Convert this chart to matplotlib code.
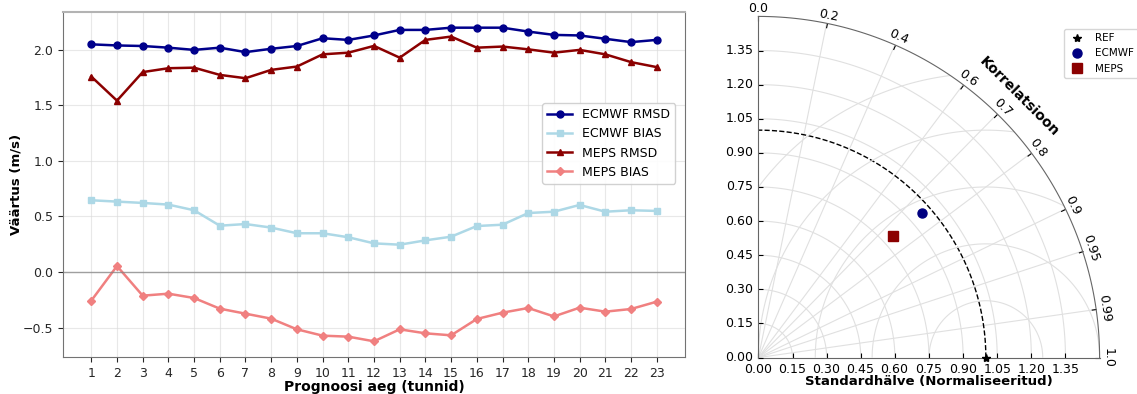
import numpy as np
import matplotlib
matplotlib.use("Agg")
import matplotlib.pyplot as plt
from matplotlib.lines import Line2D
from matplotlib.projections import PolarAxes
import mpl_toolkits.axisartist.floating_axes as FA
import mpl_toolkits.axisartist.grid_finder as GF

hours = list(range(1, 24))

ecmwf_rmsd = [2.05, 2.04, 2.035, 2.02, 2.00, 2.02, 1.98, 2.01, 2.035, 2.105, 2.09, 2.13,
              2.18, 2.18, 2.20, 2.20, 2.20, 2.165, 2.135, 2.13, 2.10, 2.07, 2.09]
ecmwf_bias = [0.646, 0.634, 0.622, 0.607, 0.556, 0.417, 0.432, 0.40, 0.349, 0.349, 0.313, 0.258,
              0.246, 0.285, 0.318, 0.414, 0.426, 0.531, 0.543, 0.604, 0.543, 0.556, 0.55]
meps_rmsd = [1.76, 1.543, 1.80, 1.835, 1.84, 1.775, 1.745, 1.82, 1.85, 1.96, 1.975, 2.036,
             1.93, 2.09, 2.12, 2.02, 2.03, 2.005, 1.975, 2.0, 1.96, 1.89, 1.845]
meps_bias = [-0.258, 0.054, -0.213, -0.195, -0.234, -0.33, -0.375, -0.42, -0.516, -0.573, -0.582, -0.624,
             -0.516, -0.552, -0.57, -0.423, -0.366, -0.324, -0.40, -0.321, -0.357, -0.333, -0.267]

# Taylor diagram (normalised std, correlation)
models = ["ECMWF", "MEPS"]
model_std = [0.96, 0.80]
model_corr = [0.749, 0.742]
model_colors = ["navy", "darkred"]
model_markers = ["o", "s"]
corr_ticks = [0.0, 0.2, 0.4, 0.6, 0.7, 0.8, 0.9, 0.95, 0.99, 1.0]
rms_levels = [0.25, 0.5, 0.75, 1.0, 1.25]
std_max = 1.5

fig = plt.figure(figsize=(11.37, 3.94), dpi=100)

# ---- left: time series ----
ax = fig.add_axes([63 / 1137, 1 - 357 / 394, 622 / 1137, 345 / 394])
ax.plot(hours, ecmwf_rmsd, color="darkblue", marker="o", lw=1.8, ms=5, label="ECMWF RMSD")
ax.plot(hours, ecmwf_bias, color="lightblue", marker="s", lw=1.8, ms=5, label="ECMWF BIAS")
ax.plot(hours, meps_rmsd, color="darkred", marker="^", lw=1.8, ms=5, label="MEPS RMSD")
ax.plot(hours, meps_bias, color="lightcoral", marker="D", lw=1.8, ms=4.5, label="MEPS BIAS")
ax.axhline(0, color="gray", lw=1, alpha=0.7)
ax.set_xticks(hours)
ax.grid(True, color="0.85", alpha=0.6, lw=0.8)
ax.tick_params(labelsize=9, colors="0.15")
for s in ax.spines.values():
    s.set_color("0.45")
ax.spines["top"].set_color("0.7")
ax.spines["top"].set_linewidth(1.5)
ax.set_xlabel("Prognoosi aeg (tunnid)", fontsize=10, fontweight="bold", labelpad=0.5)
ax.set_ylabel("Väärtus (m/s)", fontsize=9.5, fontweight="bold", labelpad=0)
ax.legend(loc="upper right", bbox_to_anchor=(0.984, 0.736), borderaxespad=0,
          fontsize=9, framealpha=0.9)

# ---- right: Taylor diagram ----
tr = PolarAxes.PolarTransform()
tlocs = np.arccos(corr_ticks)
gl1 = GF.FixedLocator(tlocs)
tf1 = GF.DictFormatter(dict(zip(tlocs, [str(c) for c in corr_ticks])))
gl2 = GF.MaxNLocator(10)
ghelper = FA.GridHelperCurveLinear(tr, extremes=(0, np.pi / 2, 0, std_max),
                                   grid_locator1=gl1, tick_formatter1=tf1,
                                   grid_locator2=gl2)
tax = fig.add_axes([755 / 1137, 1 - 361 / 394, 348 / 1137, 348 / 394],
                   axes_class=FA.FloatingAxes, grid_helper=ghelper)

tax.axis["top"].set_axis_direction("bottom")
tax.axis["top"].toggle(ticklabels=True, label=True)
tax.axis["top"].major_ticklabels.set_axis_direction("top")
tax.axis["top"].label.set_axis_direction("top")
tax.axis["top"].label.set_text("Korrelatsioon")
tax.axis["top"].label.set_fontsize(10)
tax.axis["top"].label.set_fontweight("bold")

tax.axis["left"].set_axis_direction("bottom")
tax.axis["left"].label.set_text("Standardhälve (Normaliseeritud)")
tax.axis["left"].label.set_fontsize(9.5)
tax.axis["left"].label.set_fontweight("bold")
tax.axis["left"].label.set_pad(0)

tax.axis["right"].set_axis_direction("top")
tax.axis["right"].toggle(ticklabels=True)
tax.axis["right"].major_ticklabels.set_axis_direction("left")
tax.axis["bottom"].set_visible(False)

for name in ["top", "left", "right"]:
    tax.axis[name].major_ticklabels.set_fontsize(9)
    tax.axis[name].line.set_color("0.4")

tax.grid(True, color="0.88", lw=0.8)

aux = tax.get_aux_axes(tr)
t = np.linspace(0, np.pi / 2, 200)
aux.plot(t, np.ones_like(t), "k--", lw=1)

rs, ts = np.meshgrid(np.linspace(0, std_max, 200), np.linspace(0, np.pi / 2, 200))
rms = np.sqrt(1 + rs ** 2 - 2 * rs * np.cos(ts))
aux.contour(ts, rs, rms, levels=rms_levels, colors="0.88", linewidths=0.8)

aux.plot(0, 1, "k*", ms=6, clip_on=False, zorder=5)
for std, corr, col, mk in zip(model_std, model_corr, model_colors, model_markers):
    aux.plot(np.arccos(corr), std, marker=mk, color=col, ms=6.5, ls="none", zorder=5)

handles = [Line2D([], [], marker="*", color="k", ls="none", ms=6, label="REF")]
for name, col, mk in zip(models, model_colors, model_markers):
    handles.append(Line2D([], [], marker=mk, color=col, ls="none", ms=6.5, label=name))
fig.legend(handles=handles, loc="upper left", bbox_to_anchor=(1064 / 1137, 1 - 29 / 394),
           fontsize=7.5, borderaxespad=0, handletextpad=1.0, handlelength=1.6)

fig.savefig("out.png", dpi=100)
